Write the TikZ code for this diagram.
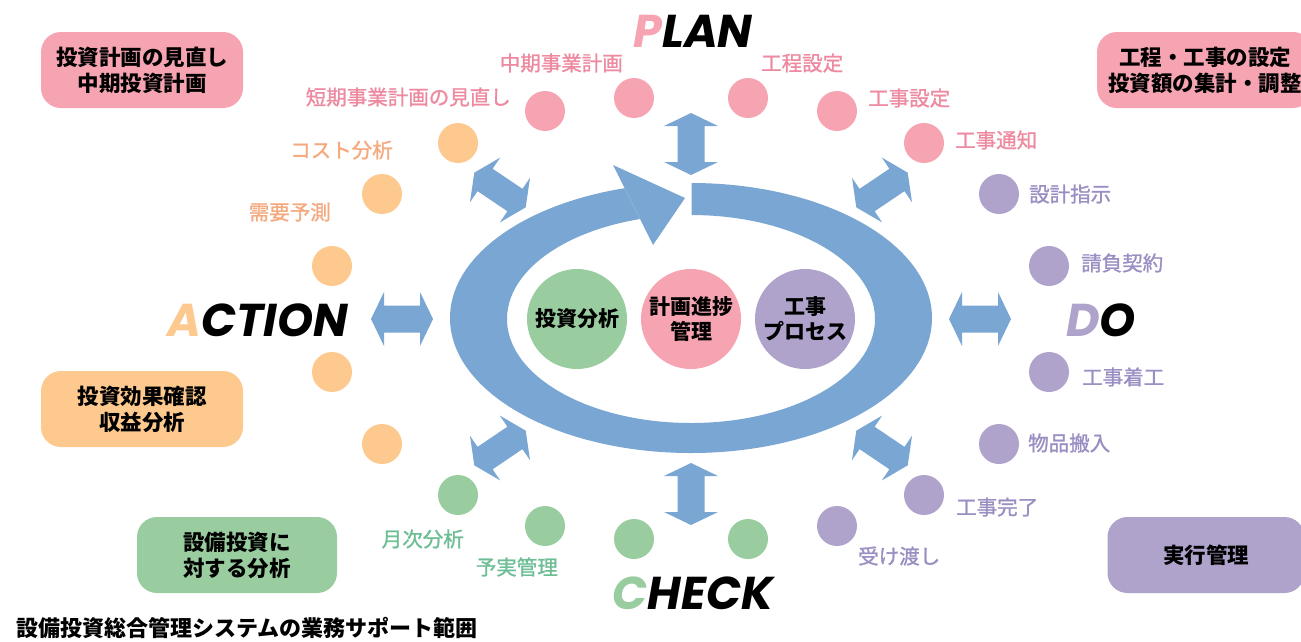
\documentclass[tikz,border=0pt]{standalone}
\usepackage{fontspec}
\newfontfamily\jp{Noto Sans CJK JP}
\newfontfamily\jpm{Noto Sans CJK JP}[FakeBold=1.2]
\newfontfamily\pdca{Poppins}
\definecolor{cpink}{HTML}{F7A4B2}
\definecolor{corange}{HTML}{FEC98F}
\definecolor{cgreen}{HTML}{99CD9F}
\definecolor{cpurple}{HTML}{AFA3CC}
\definecolor{cblue}{HTML}{79A6D2}
\definecolor{tpink}{HTML}{EE8AA0}
\definecolor{torange}{HTML}{F5A97F}
\definecolor{tgreen}{HTML}{6DBE95}
\definecolor{tpurple}{HTML}{9B8EC2}
\newcommand{\dblarr}[3]{\fill[cblue,shift={(#1,#2)},rotate=#3] (-31,0) -- (-18,-27) -- (-18,-13.5) -- (18,-13.5) -- (18,-27) -- (31,0) -- (18,27) -- (18,13.5) -- (-18,13.5) -- (-18,27) -- cycle;}
\begin{document}
\begin{tikzpicture}[x=1pt,y=-1pt,
  dot/.style={circle,minimum size=40pt,inner sep=0pt,draw=none},
  lbl/.style={font=\jpm\fontsize{20.5}{24}\selectfont,inner sep=0pt},
  box/.style={rounded corners=20pt,minimum height=76pt,inner sep=0pt,align=center,font=\jp\bfseries\fontsize{21.5}{26}\selectfont},
  ctr/.style={circle,minimum size=100pt,inner sep=0pt,align=center,font=\jp\bfseries\fontsize{21}{25}\selectfont},
  big/.style={font=\pdca\bfseries\itshape\fontsize{46}{46}\selectfont,inner sep=0pt}]
\useasboundingbox (0,0) rectangle (1301,641);
\fill[white] (0,0) rectangle (1301,641);
% ring
\fill[cblue,even odd rule] (691,318) ellipse [x radius=241,y radius=135] (691,319) ellipse [x radius=184,y radius=104];
\fill[white] (610,159) -- (691.5,159) -- (691.5,251) -- (656,251) -- cycle;
\fill[cblue] (613,165) -- (685,198) -- (653,245) -- cycle;
% double arrows
\dblarr{691}{144}{90}
\dblarr{691}{494}{90}
\dblarr{402}{319}{0}
\dblarr{980}{319}{0}
\dblarr{500}{190}{-34}
\dblarr{882}{190}{34}
\dblarr{500}{448}{34}
\dblarr{882}{448}{-34}
% dots
\node[dot,fill=cpink] (p1) at (545,111) {};
\node[dot,fill=cpink] (p2) at (634,98) {};
\node[dot,fill=cpink] (p3) at (748,98) {};
\node[dot,fill=cpink] (p4) at (837,111) {};
\node[dot,fill=cpink] (p5) at (924,143) {};
\node[dot,fill=corange] (o1) at (458,143) {};
\node[dot,fill=corange] (o2) at (382,194) {};
\node[dot,fill=corange] (o3) at (332,266) {};
\node[dot,fill=corange] (o4) at (332,372) {};
\node[dot,fill=corange] (o5) at (382,444) {};
\node[dot,fill=cgreen] (g1) at (458,495) {};
\node[dot,fill=cgreen] (g2) at (545,526) {};
\node[dot,fill=cgreen] (g3) at (634,539) {};
\node[dot,fill=cgreen] (g4) at (748,539) {};
\node[dot,fill=cpurple] (u1) at (837,526) {};
\node[dot,fill=cpurple] (u2) at (924,495) {};
\node[dot,fill=cpurple] (u3) at (999,444) {};
\node[dot,fill=cpurple] (u4) at (1049,372) {};
\node[dot,fill=cpurple] (u5) at (1049,266) {};
\node[dot,fill=cpurple] (u6) at (999,194) {};
% labels
\node[lbl,text=tpink,anchor=east] (l1) at (511,97) {短期事業計画の見直し};
\node[lbl,text=tpink,anchor=east] (l2) at (623,63) {中期事業計画};
\node[lbl,text=tpink,anchor=west] (l3) at (761,63) {工程設定};
\node[lbl,text=tpink,anchor=west] (l4) at (868,98) {工事設定};
\node[lbl,text=tpink,anchor=west] (l5) at (955,140) {工事通知};
\node[lbl,text=torange,anchor=east] (l6) at (393,150) {コスト分析};
\node[lbl,text=torange,anchor=east] (l7) at (331,212) {需要予測};
\node[lbl,text=tgreen,anchor=east] (l8) at (464,539) {月次分析};
\node[lbl,text=tgreen,anchor=east] (l9) at (558,567) {予実管理};
\node[lbl,text=tpurple,anchor=west] (l10) at (1029,194) {設計指示};
\node[lbl,text=tpurple,anchor=west] (l11) at (1081,263) {請負契約};
\node[lbl,text=tpurple,anchor=west] (l12) at (1082,377) {工事着工};
\node[lbl,text=tpurple,anchor=west] (l13) at (1028,443) {物品搬入};
\node[lbl,text=tpurple,anchor=west] (l14) at (956,507) {工事完了};
\node[lbl,text=tpurple,anchor=west] (l15) at (858,556) {受け渡し};
% boxes
\node[box,fill=cpink,minimum width=202pt] (b1) at (142,70) {投資計画の見直し\\中期投資計画};
\node[box,fill=cpink,minimum width=216pt] (b2) at (1205,70) {工程・工事の設定\\投資額の集計・調整};
\node[box,fill=corange,minimum width=202pt] (b3) at (142,409) {投資効果確認\\収益分析};
\node[box,fill=cgreen,minimum width=200pt] (b4) at (237,555) {設備投資に\\対する分析};
\node[box,fill=cpurple,minimum width=197pt] (b5) at (1206,555) {実行管理};
% center circles
\node[ctr,fill=cgreen] (c1) at (577,319) {投資分析};
\node[ctr,fill=cpink] (c2) at (691,319) {計画進捗\\管理};
\node[ctr,fill=cpurple] (c3) at (805,319) {工事\\プロセス};
% PDCA
\node[big] (plan) at (693,31) {\textcolor{cpink}{P}LAN};
\node[big] (action) at (258,320) {\textcolor{corange}{A}CTION};
\node[big] (do) at (1101,320) {\textcolor{cpurple}{D}O};
\node[big] (check) at (693,593) {\textcolor{cgreen}{C}HECK};
% caption
\node[font=\jp\bfseries\fontsize{22}{25}\selectfont,inner sep=0pt,anchor=west] (cap) at (16,628) {設備投資総合管理システムの業務サポート範囲};
\end{tikzpicture}
\end{document}
